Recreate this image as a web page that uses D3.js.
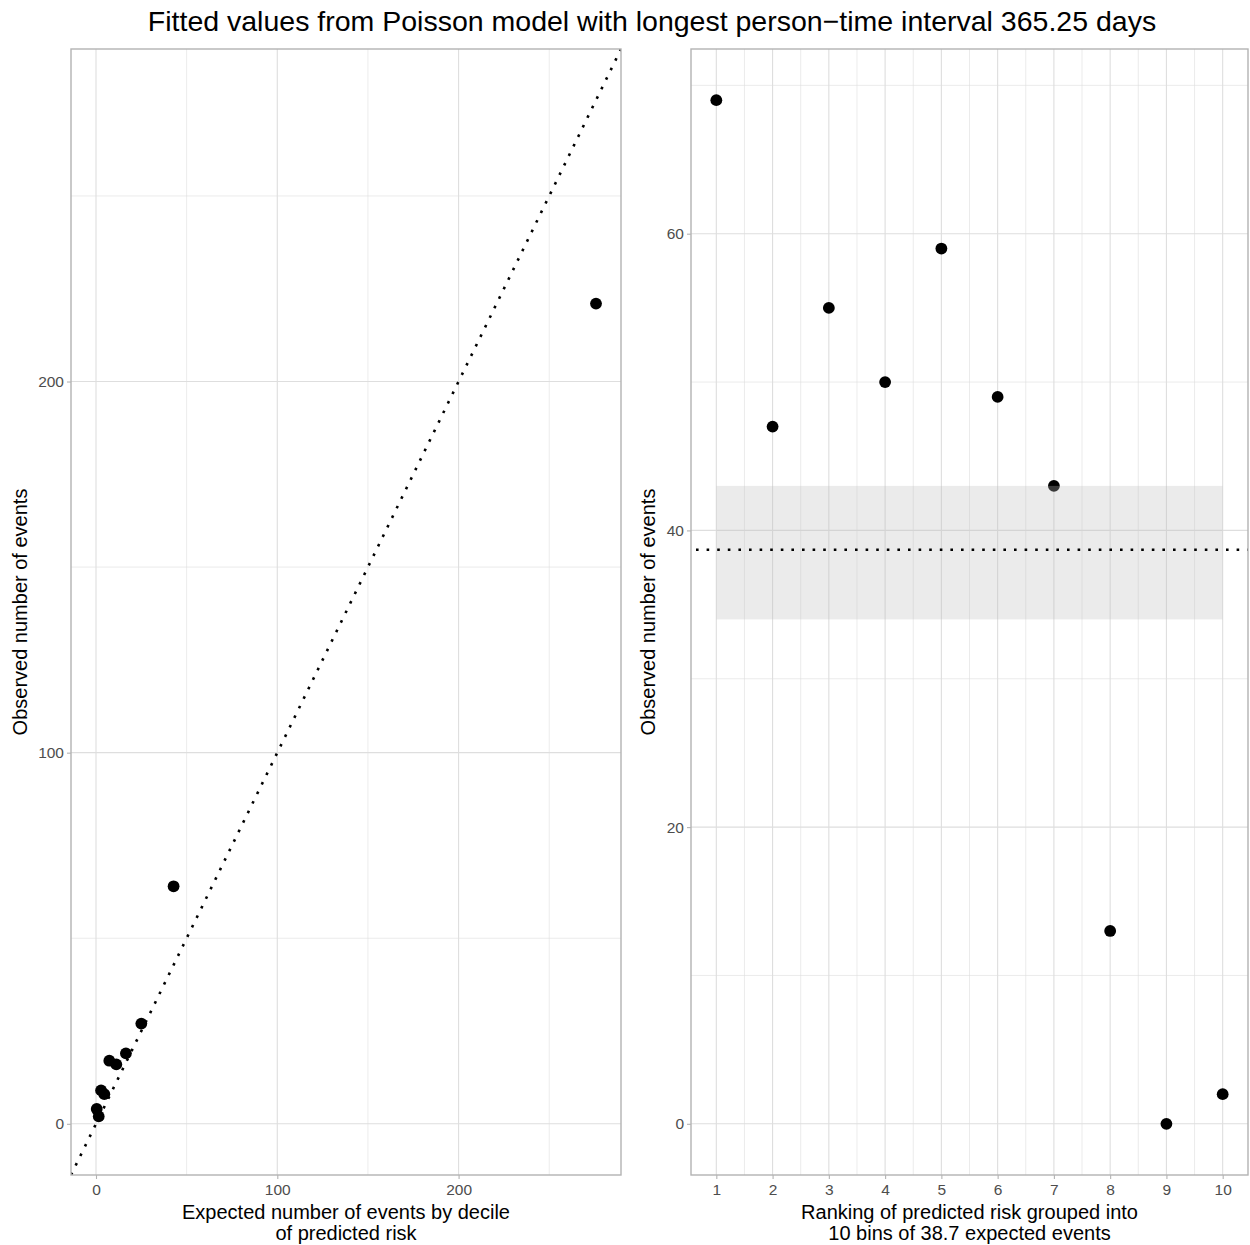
<!DOCTYPE html>
<html>
<head>
<meta charset="utf-8">
<script src="https://cdn.jsdelivr.net/npm/d3@7"></script>
<style>
  html, body { margin: 0; padding: 0; background: #fff; }
  svg text { font-family: "Liberation Sans", Arial, Helvetica, sans-serif; }
</style>
</head>
<body>
<svg id="chart" width="1250" height="1245"></svg>
<script>
// Decile calibration: expected vs observed events per decile of predicted risk
const decileExpected = [0.4, 1.5, 2.8, 4.6, 7.35, 11.2, 16.5, 25.0, 42.8, 275.8];
const decileObserved = [4, 2, 9, 8, 17, 16, 19, 27, 64, 221];

// Equal-expected bins: ranking of predicted risk, observed per bin
const binRank = [1, 2, 3, 4, 5, 6, 7, 8, 9, 10];
const binObserved = [69, 47, 55, 50, 59, 49, 43, 13, 0, 2];
const binExpected = 38.7;
const binBandLow = 34;   // Poisson 25th percentile
const binBandHigh = 43;  // Poisson 75th percentile

// Tick labels
const leftTicks = [0, 100, 200];
const leftMinor = [50, 150, 250];
const rightXTicks = [1, 2, 3, 4, 5, 6, 7, 8, 9, 10];
const rightXMinor = [1.5, 2.5, 3.5, 4.5, 5.5, 6.5, 7.5, 8.5, 9.5];
const rightYTicks = [0, 20, 40, 60];
const rightYMinor = [10, 30, 50, 70];

const titleText = "Fitted values from Poisson model with longest person\u2212time interval 365.25 days";
const leftXTitle = ["Expected number of events by decile", "of predicted risk"];
const rightXTitle = ["Ranking of predicted risk grouped into", "10 bins of 38.7 expected events"];
const yTitle = "Observed number of events";

const svg = d3.select("#chart");
const GRID = "#dedede", BORDER = "#b3b3b3", TICKTXT = "#4d4d4d";
const panelTop = 49, panelBottom = 1175;

function expand(lo, hi) { const r = hi - lo; return [lo - 0.05 * r, hi + 0.05 * r]; }

function panel(opts) {
  const g = svg.append("g");
  const x = opts.x, y = opts.y;
  const [x0, x1] = x.range(), [y0, y1] = y.range();
  // minor grid
  g.selectAll(null).data(opts.xMinor).enter().append("line")
    .attr("x1", d => x(d)).attr("x2", d => x(d)).attr("y1", y0).attr("y2", y1)
    .attr("stroke", GRID).attr("stroke-width", 0.6);
  g.selectAll(null).data(opts.yMinor).enter().append("line")
    .attr("y1", d => y(d)).attr("y2", d => y(d)).attr("x1", x0).attr("x2", x1)
    .attr("stroke", GRID).attr("stroke-width", 0.6);
  // major grid
  g.selectAll(null).data(opts.xTicks).enter().append("line")
    .attr("x1", d => x(d)).attr("x2", d => x(d)).attr("y1", y0).attr("y2", y1)
    .attr("stroke", GRID).attr("stroke-width", 1.1);
  g.selectAll(null).data(opts.yTicks).enter().append("line")
    .attr("y1", d => y(d)).attr("y2", d => y(d)).attr("x1", x0).attr("x2", x1)
    .attr("stroke", GRID).attr("stroke-width", 1.1);

  const clipId = "clip" + Math.round(x0);
  svg.append("clipPath").attr("id", clipId).append("rect")
    .attr("x", x0).attr("y", y1).attr("width", x1 - x0).attr("height", y0 - y1);
  const inner = g.append("g").attr("clip-path", `url(#${clipId})`);
  opts.draw(inner);

  // border
  g.append("rect").attr("x", x0).attr("y", y1).attr("width", x1 - x0).attr("height", y0 - y1)
    .attr("fill", "none").attr("stroke", BORDER).attr("stroke-width", 1.4);

  // axes (ticks + labels)
  const xa = d3.axisBottom(x).tickValues(opts.xTicks).tickSize(4).tickPadding(3).tickFormat(d3.format("d"));
  const ya = d3.axisLeft(y).tickValues(opts.yTicks).tickSize(4).tickPadding(3).tickFormat(d3.format("d"));
  const gx = g.append("g").attr("transform", `translate(0,${y0})`).call(xa);
  const gy = g.append("g").attr("transform", `translate(${x0},0)`).call(ya);
  [gx, gy].forEach(a => {
    a.select(".domain").remove();
    a.selectAll(".tick line").attr("stroke", BORDER).attr("stroke-width", 1.1);
    a.selectAll(".tick text").attr("fill", TICKTXT).style("font-size", "15.5px")
      .style("font-family", "'Liberation Sans', Arial, sans-serif");
  });
  gx.selectAll(".tick text").attr("dy", "0.85em");

  // x title
  const xt = g.append("text").attr("text-anchor", "middle")
    .attr("x", (x0 + x1) / 2).attr("y", 1219).style("font-size", "20px").attr("fill", "#000");
  opts.xTitle.forEach((t, i) => xt.append("tspan").attr("x", (x0 + x1) / 2).attr("dy", i ? 21 : 0).text(t));
  // y title
  g.append("text").attr("text-anchor", "middle")
    .attr("transform", `translate(${opts.yTitleX},${(y0 + y1) / 2}) rotate(-90)`)
    .style("font-size", "20px").attr("fill", "#000").text(yTitle);
}

// Left panel: expected vs observed by decile
const lim = d3.max(decileExpected.concat(decileObserved));
const dom = expand(0, lim);
const xL = d3.scaleLinear().domain(dom).range([71, 621]);
const yL = d3.scaleLinear().domain(dom).range([panelBottom, panelTop]);
panel({
  x: xL, y: yL, xTicks: leftTicks, yTicks: leftTicks, xMinor: leftMinor, yMinor: leftMinor,
  xTitle: leftXTitle, yTitleX: 27,
  draw: g => {
    g.selectAll(null).data(d3.range(decileExpected.length)).enter().append("circle")
      .attr("cx", i => xL(decileExpected[i])).attr("cy", i => yL(decileObserved[i]))
      .attr("r", 5.9).attr("fill", "#000");
    g.append("line")
      .attr("x1", xL(dom[0])).attr("y1", yL(dom[0])).attr("x2", xL(dom[1])).attr("y2", yL(dom[1]))
      .attr("stroke", "#000").attr("stroke-width", 2.6).attr("stroke-dasharray", "2.6,8");
  }
});

// Right panel: observed per equal-expected bin
const xR = d3.scaleLinear().domain(expand(1, 10)).range([691, 1248]);
const yR = d3.scaleLinear().domain(expand(0, d3.max(binObserved))).range([panelBottom, panelTop]);
panel({
  x: xR, y: yR, xTicks: rightXTicks, yTicks: rightYTicks, xMinor: rightXMinor, yMinor: rightYMinor,
  xTitle: rightXTitle, yTitleX: 655,
  draw: g => {
    g.selectAll(null).data(binRank).enter().append("circle")
      .attr("cx", (d) => xR(d)).attr("cy", (d, i) => yR(binObserved[i]))
      .attr("r", 5.9).attr("fill", "#000");
    g.append("rect")
      .attr("x", xR(d3.min(binRank))).attr("width", xR(d3.max(binRank)) - xR(d3.min(binRank)))
      .attr("y", yR(binBandHigh)).attr("height", yR(binBandLow) - yR(binBandHigh))
      .attr("fill", "#bebebe").attr("fill-opacity", 0.3);
    g.append("line")
      .attr("x1", xR.range()[0]).attr("x2", xR.range()[1])
      .attr("y1", yR(binExpected)).attr("y2", yR(binExpected))
      .attr("stroke", "#000").attr("stroke-width", 2.6).attr("stroke-dasharray", "2.6,8")
      .attr("stroke-dashoffset", -5);
  }
});

// Title
svg.append("text").attr("x", 652).attr("y", 31).attr("text-anchor", "middle")
  .style("font-size", "28.5px").attr("fill", "#000").text(titleText);
</script>
</body>
</html>
